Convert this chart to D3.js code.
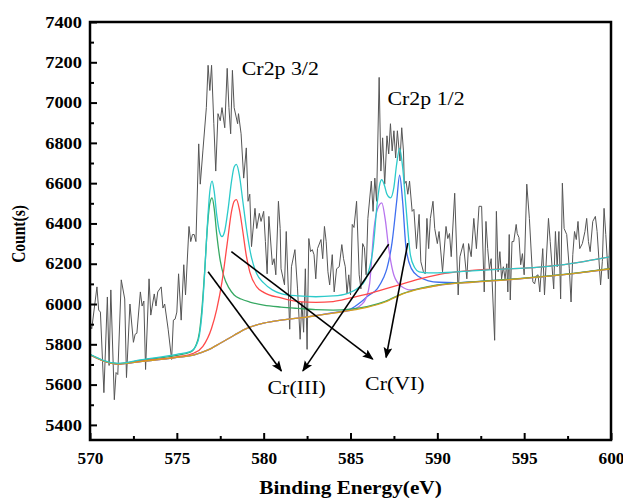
<!DOCTYPE html>
<html><head><meta charset="utf-8">
<script src="https://cdn.jsdelivr.net/npm/d3@7"></script>
<style>body{margin:0;background:#fff;} svg{display:block;}</style>
</head><body><svg id="c" width="623" height="500"></svg>
<script>
// ---------- DATA ----------
const xTicks = [570, 575, 580, 585, 590, 595, 600];
const xMinor = [572.5, 577.5, 582.5, 587.5, 592.5, 597.5];
const yTicks = [5400, 5600, 5800, 6000, 6200, 6400, 6600, 6800, 7000, 7200, 7400];
const yMinor = [5500, 5700, 5900, 6100, 6300, 6500, 6700, 6900, 7100, 7300];

// raw spectrum [binding energy, counts]
const raw = [
[570.0,5900],[570.1,5877],[570.4,6085],[570.5,5970],[570.6,5960],[570.8,5560],[571.0,6035],[571.1,5695],
[571.2,6070],[571.4,5525],[571.5,5660],[571.6,5650],[571.8,6120],[572.0,6025],[572.1,5635],[572.3,6000],
[572.5,5810],[572.6,5850],[572.7,5855],[572.9,6060],[573.0,5990],[573.1,6015],[573.2,5675],[573.4,6125],
[573.5,5945],[573.7,6050],[573.8,5990],[573.9,6060],[574.1,6085],[574.2,5980],[574.3,6000],[574.5,5875],
[574.7,5725],[574.8,5920],[574.9,5925],[575.0,5960],[575.1,6150],[575.25,5920],[575.4,6195],[575.5,6045],
[575.7,6385],[575.8,6310],[575.9,6345],[576.0,6345],[576.1,6310],[576.26,6795],[576.35,6595],[576.5,6760],
[576.7,6975],[576.8,7185],[576.9,7060],[577.0,7185],[577.13,6895],[577.24,6660],[577.37,6945],[577.5,6910],
[577.6,6975],[577.76,6875],[577.9,7170],[578.0,6975],[578.1,6845],[578.2,7160],[578.3,6975],[578.5,6895],
[578.55,6945],[578.7,6845],[578.85,6625],[579.0,6775],[579.1,6510],[579.2,6545],[579.3,6285],[579.5,6475],
[579.6,6375],[579.75,6450],[579.85,6410],[580.0,6460],[580.1,6310],[580.2,6150],[580.3,6435],[580.5,6195],
[580.6,6225],[580.7,6145],[580.85,6510],[580.95,6375],[581.0,6175],[581.2,6095],[581.3,6360],[581.5,5875],
[581.6,6185],[581.8,6270],[581.95,6075],[582.1,5825],[582.2,6010],[582.3,5860],[582.4,6175],[582.5,5775],
[582.6,6325],[582.7,6260],[582.8,6270],[582.9,6245],[583.0,6125],[583.1,6275],[583.3,6320],[583.4,6225],
[583.5,6385],[583.6,6310],[583.7,6160],[583.8,6095],[583.95,6245],[584.06,6060],[584.2,6175],[584.35,6185],
[584.5,6295],[584.6,6225],[584.7,6185],[584.8,6050],[584.9,6145],[585.0,6045],[585.1,6395],[585.2,6380],
[585.35,6510],[585.5,6145],[585.6,6075],[585.7,6300],[585.8,6280],[585.9,6145],[586.0,6425],[586.2,6610],
[586.3,6460],[586.4,6625],[586.5,6510],[586.65,7125],[586.75,6660],[586.85,6825],[586.97,6595],[587.1,6835],
[587.2,6745],[587.3,6895],[587.4,6760],[587.5,6860],[587.6,6725],[587.7,6860],[587.85,6710],[587.95,6875],
[588.05,6760],[588.1,6595],[588.2,6610],[588.3,6545],[588.4,6610],[588.55,6460],[588.65,6470],[588.8,6275],
[588.95,6445],[589.05,6210],[589.2,6160],[589.3,6150],[589.4,6425],[589.5,6275],[589.6,6425],[589.75,6510],
[589.85,6375],[590.0,6300],[590.1,6360],[590.3,6160],[590.5,6385],[590.6,6325],[590.7,6350],[590.8,6235],
[591.0,6550],[591.2,6045],[591.3,6235],[591.5,6300],[591.7,6125],[591.8,6300],[591.95,6235],[592.1,6425],
[592.25,6275],[592.4,6485],[592.55,6485],[592.7,6060],[592.8,6410],[592.9,6275],[593.0,6175],[593.1,6225],
[593.3,5820],[593.4,6460],[593.5,6160],[593.6,6260],[593.7,6125],[593.8,6185],[593.9,6125],[594.0,6200],
[594.06,6060],[594.14,6345],[594.2,6020],[594.3,6310],[594.4,6310],[594.54,6395],[594.6,6350],[594.7,6330],
[594.8,6195],[594.9,6250],[595.0,6145],[595.15,6595],[595.3,6425],[595.5,6110],[595.6,6100],[595.7,6140],
[595.8,6145],[595.9,6060],[596.07,6275],[596.17,6045],[596.4,6425],[596.5,6310],[596.7,6075],[596.8,6360],
[596.9,6185],[597.0,6360],[597.1,6025],[597.2,6600],[597.3,6375],[597.45,6345],[597.6,6175],[597.7,6010],
[597.8,6245],[597.9,6360],[598.0,6320],[598.1,6410],[598.2,6275],[598.35,6300],[598.5,6360],[598.6,6425],
[598.7,6310],[598.8,6260],[598.95,6410],[599.1,6435],[599.2,6360],[599.4,6095],[599.5,6210],[599.6,6475],
[599.7,6345],[599.85,6125],[600.0,6510]
];

// Shirley background
const background = [[570,5748],[571.6,5702],[573,5715],[575,5735],[576,5748],[576.8,5772],[577.5,5805],[578.3,5845],
[579,5878],[580,5905],[581,5920],[582,5930],[583,5942],[584,5955],[585,5968],[586,5985],[587,6010],[588,6050],
[589,6075],[590,6092],[592,6108],[594,6120],[595,6127],[597,6143],[598.5,6158],[600,6175]];

// fitted envelope
const envelope = [[570,5750],[571.6,5705],[573,5724],[575,5750],[575.8,5765],[576.1,5792],[576.3,5845],[576.45,5955],
[576.6,6150],[576.75,6380],[576.9,6560],[577.03,6610],[577.15,6560],[577.3,6440],[577.45,6360],[577.6,6335],
[577.75,6360],[577.95,6470],[578.15,6610],[578.3,6680],[578.43,6693],[578.6,6640],[578.8,6510],[579.0,6380],
[579.3,6230],[579.6,6150],[580.0,6105],[580.5,6070],[581,6052],[582,6040],[583,6036],[584,6040],[584.8,6052],
[585.4,6077],[585.9,6127],[586.1,6180],[586.3,6277],[586.55,6510],[586.7,6600],[586.8,6618],[586.95,6590],
[587.1,6545],[587.3,6527],[587.5,6580],[587.65,6690],[587.83,6773],[588.0,6680],[588.2,6477],[588.45,6243],
[588.7,6180],[588.95,6160],[589.5,6155],[590,6155],[592,6165],[594,6174],[595,6178],[597,6193],[598.5,6212],[600,6235]];

// Cr(III) 2p3/2 component
const crIII_32 = [[570,5749],[571.6,5704],[573,5722],[575,5745],[575.8,5762],[576.1,5795],[576.3,5860],[576.45,5980],
[576.6,6160],[576.75,6370],[576.9,6500],[577.03,6527],[577.15,6475],[577.3,6345],[577.5,6215],[577.7,6140],
[578.0,6080],[578.3,6045],[578.7,6025],[579.2,6010],[580,5995],[581,5985],[582,5978],[583,5972],[584,5970],
[585,5975],[586,5988],[587,6013],[588,6052],[589,6078],[590,6095],[592,6110],[594,6122],[595,6129],
[597,6145],[598.5,6160],[600,6177]];

// Cr(VI) 2p3/2 component
const crVI_32 = [[570,5748],[571.6,5703],[573,5718],[575,5738],[576,5757],[576.5,5790],[577,5880],[577.3,5975],
[577.6,6110],[577.9,6300],[578.15,6460],[578.3,6510],[578.43,6518],[578.6,6470],[578.8,6360],[579.0,6240],
[579.2,6160],[579.6,6085],[580,6058],[581,6030],[582,6012],[583,6008],[584,6012],[585,6030],[586,6050],
[587,6075],[588,6100],[589,6125],[590,6145],[591,6158],[592,6167],[593,6172],[595,6178],[597,6193],
[598.5,6212],[600,6235]];

// Cr(III) 2p1/2 component
const crIII_12 = [[570,5748],[571.6,5702],[573,5715],[575,5735],[576,5748],[576.8,5772],[577.5,5805],[578.3,5845],
[579,5878],[580,5905],[581,5920],[582,5930],[583,5942],[584,5955],[585,5968],[585.6,5995],[585.9,6030],
[586.1,6100],[586.35,6370],[586.55,6470],[586.8,6502],[587.0,6420],[587.2,6277],[587.5,6143],[587.9,6090],
[588.5,6070],[589,6076],[590,6092],[592,6108],[594,6120],[595,6127],[597,6143],[598.5,6158],[600,6175]];

// Cr(VI) 2p1/2 component
const crVI_12 = [[570,5748],[571.6,5702],[573,5715],[575,5735],[576,5748],[576.8,5772],[577.5,5805],[578.3,5845],
[579,5878],[580,5905],[581,5920],[582,5930],[583,5942],[584,5957],[585,5975],[585.6,6010],[586.0,6040],
[586.55,6077],[586.9,6130],[587.1,6177],[587.4,6310],[587.66,6510],[587.83,6640],[588.0,6510],[588.2,6277],
[588.5,6177],[588.95,6135],[589.5,6115],[590.1,6108],[591,6106],[592,6110],[594,6121],[595,6127],
[597,6143],[598.5,6158],[600,6175]];

// annotations (data units)
const arrows = [
  [576.8, 6160, 581.02, 5668],
  [587.2, 6297, 582.26, 5668],
  [578.14, 6260, 586.28, 5727],
  [588.3, 6302, 587.05, 5735]
];
const labels = [
  {text: "Cr2p 3/2", x: 578.74, y: 7137, anchor: "start"},
  {text: "Cr2p 1/2", x: 587.13, y: 6988, anchor: "start"},
  {text: "Cr(III)", x: 581.9, y: 5553, anchor: "middle"},
  {text: "Cr(VI)", x: 587.55, y: 5573, anchor: "middle"}
];

// ---------- DRAW ----------
const svg = d3.select("#c");
const L = 90, R = 611, T = 22, B = 440;
const SX = 1.15;
const x = d3.scaleLinear().domain([570, 600]).range([L, R]);
const y = d3.scaleLinear().domain([5325, 7400]).range([B, T]);
const serif = "'Liberation Serif','Times New Roman',serif";

svg.append("defs").append("clipPath").attr("id", "clip")
  .append("rect").attr("x", L).attr("y", T).attr("width", R - L).attr("height", B - T);

const plot = svg.append("g").attr("clip-path", "url(#clip)");
const lineLin = d3.line().x(d => x(d[0])).y(d => y(d[1]));
const lineSmooth = d3.line().x(d => x(d[0])).y(d => y(d[1])).curve(d3.curveMonotoneX);

plot.append("path").datum(raw).attr("d", lineLin)
  .attr("fill", "none").attr("stroke", "#555555").attr("stroke-width", 1);

const comps = [
  [crVI_12, "#3f6ff0"],
  [crIII_12, "#b774ee"],
  [crIII_32, "#36a862"],
  [crVI_32, "#ff4a4a"],
  [background, "#d4a11c"],
  [envelope, "#2ccaca"]
];
comps.forEach(([data, col]) => {
  plot.append("path").datum(data).attr("d", lineSmooth)
    .attr("fill", "none").attr("stroke", col).attr("stroke-width", 1.3);
});

// arrows
svg.select("defs").append("marker").attr("id", "ah")
  .attr("viewBox", "0 0 10 10").attr("refX", 9).attr("refY", 5)
  .attr("markerWidth", 11).attr("markerHeight", 11).attr("markerUnits", "userSpaceOnUse")
  .attr("orient", "auto")
  .append("path").attr("d", "M0,1 L10,5 L0,9 L2,5 Z").attr("fill", "#000");

svg.append("g").selectAll("line").data(arrows).join("line")
  .attr("x1", d => x(d[0])).attr("y1", d => y(d[1]))
  .attr("x2", d => x(d[2])).attr("y2", d => y(d[3]))
  .attr("stroke", "#000").attr("stroke-width", 1.6)
  .attr("marker-end", "url(#ah)");

svg.append("g").selectAll("text").data(labels).join("text")
  .attr("transform", d => `translate(${x(d.x)},${y(d.y)}) scale(${SX},1)`)
  .attr("text-anchor", d => d.anchor)
  .attr("font-family", serif).attr("font-size", 19)
  .attr("fill", "#000").text(d => d.text);

// axes
const fmt = d3.format("d");
const gx = svg.append("g").attr("transform", `translate(0,${B})`)
  .call(d3.axisBottom(x).tickValues(xTicks).tickFormat(fmt).tickSizeInner(-7).tickSizeOuter(0).tickPadding(13));
const gxm = svg.append("g").attr("transform", `translate(0,${B})`)
  .call(d3.axisBottom(x).tickValues(xMinor).tickFormat("").tickSizeInner(-4).tickSizeOuter(0));
const gy = svg.append("g").attr("transform", `translate(${L},0)`)
  .call(d3.axisLeft(y).tickValues(yTicks).tickFormat(fmt).tickSizeInner(-7).tickSizeOuter(0).tickPadding(8));
const gym = svg.append("g").attr("transform", `translate(${L},0)`)
  .call(d3.axisLeft(y).tickValues(yMinor).tickFormat("").tickSizeInner(-4).tickSizeOuter(0));

[gx, gxm, gy, gym].forEach(g => {
  g.select(".domain").remove();
  g.selectAll(".tick line").attr("stroke", "#000").attr("stroke-width", 2);
  g.selectAll("text").attr("font-family", serif).attr("font-size", 16)
    .attr("font-weight", "bold").attr("fill", "#000");
});
gx.selectAll(".tick text").attr("transform", "scale(1.08,1)");
gy.selectAll(".tick text").attr("x", -8 / SX).attr("transform", `scale(${SX},1)`);

// frame
svg.append("rect").attr("x", L).attr("y", T).attr("width", R - L).attr("height", B - T)
  .attr("fill", "none").attr("stroke", "#000").attr("stroke-width", 2.5);

// axis titles
svg.append("text")
  .attr("transform", `translate(${(L + R) / 2},494) scale(${SX},1)`)
  .attr("text-anchor", "middle").attr("font-family", serif).attr("font-weight", "bold")
  .attr("font-size", 18.5).attr("fill", "#000").text("Binding Energy(eV)");
svg.append("text")
  .attr("transform", `translate(25,234) scale(${SX},1) rotate(-90)`)
  .attr("text-anchor", "middle").attr("font-family", serif).attr("font-weight", "bold")
  .attr("font-size", 15.5).attr("fill", "#000").text("Count(s)");
</script>
</body></html>
